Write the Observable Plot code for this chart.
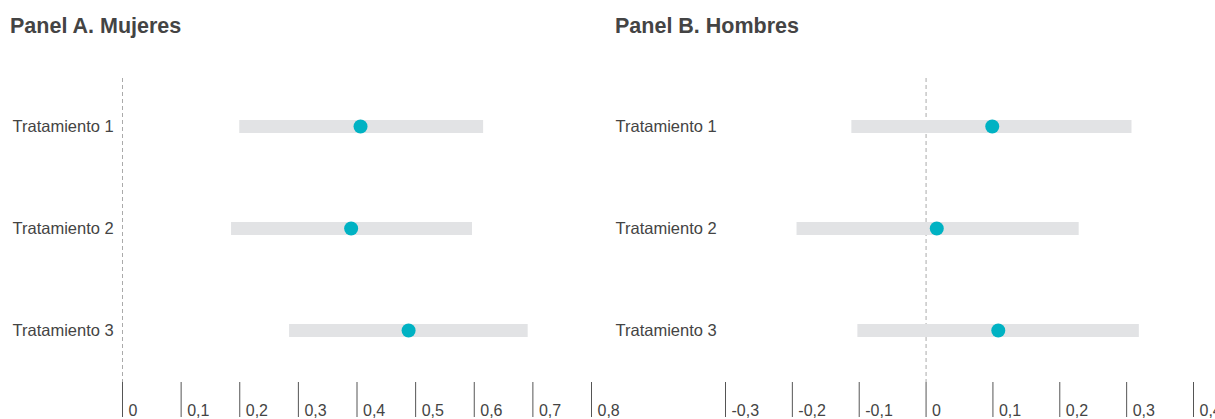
<!DOCTYPE html>
<html>
<head>
<meta charset="utf-8">
<script src="https://cdn.jsdelivr.net/npm/d3@7"></script>
<script src="https://cdn.jsdelivr.net/npm/@observablehq/plot@0.6"></script>
<style>
  html, body { margin: 0; padding: 0; background: #fff; overflow: hidden; }
  body { width: 1215px; height: 419px; position: relative; font-family: "Liberation Sans", Arial, sans-serif; }
  .panel { position: absolute; top: 0; }
  .panel svg { overflow: visible; }
  .title { position: absolute; top: 14px; font-size: 21.5px; font-weight: bold; color: #444; white-space: nowrap; }
</style>
</head>
<body>
<div id="a" class="panel" style="left:0px"></div>
<div id="b" class="panel" style="left:605px"></div>
<div class="title" style="left:10px">Panel A. Mujeres</div>
<div class="title" style="left:615px">Panel B. Hombres</div>
<script>
const categories = ["Tratamiento 1", "Tratamiento 2", "Tratamiento 3"];

// Panel A (Mujeres)
const womenEstimate = [0.406, 0.390, 0.488];
const womenLow = [0.200, 0.186, 0.285];
const womenHigh = [0.616, 0.597, 0.692];
const womenTicks = [0, 0.1, 0.2, 0.3, 0.4, 0.5, 0.6, 0.7, 0.8];

// Panel B (Hombres)
const menEstimate = [0.099, 0.016, 0.108];
const menLow = [-0.111, -0.193, -0.102];
const menHigh = [0.308, 0.229, 0.319];
const menTicks = [-0.3, -0.2, -0.1, 0, 0.1, 0.2, 0.3, 0.4];

const fmt = d => d === 0 ? "0" : d.toFixed(1).replace(".", ",");

function panel(est, lo, hi, ticks, domain, range, width, labelX) {
  const data = categories.map((c, i) => ({cat: c, est: est[i], lo: lo[i], hi: hi[i]}));
  return Plot.plot({
    width, height: 419,
    marginTop: 78, marginBottom: 37, marginLeft: range[0], marginRight: width - range[1],
    style: {fontFamily: "'Liberation Sans', Arial, sans-serif", fontSize: "16px", color: "#444", background: "transparent", overflow: "visible"},
    x: {domain, range},
    y: {type: "point", domain: categories, range: [126, 330], padding: 0},
    marks: [
      Plot.ruleX([0], {stroke: "#aaa", strokeDasharray: "4,3", strokeWidth: 1}),
      Plot.ruleY(data, {x1: "lo", x2: "hi", y: "cat", stroke: "#e2e3e5", strokeWidth: 13}),
      Plot.dot(data, {x: "est", y: "cat", r: 7, fill: "#00b2c3", stroke: "none"}),
      Plot.text(categories, {y: d => d, frameAnchor: "left", dx: -(range[0] - labelX), textAnchor: "start", fill: "#444", fontSize: 16.5}),
      Plot.axisX({ticks, tickFormat: () => "", anchor: "bottom", tickSize: 35, stroke: "#555", strokeOpacity: 1}),
      Plot.axisX({ticks, tickFormat: fmt, anchor: "bottom", tickSize: 0, tickPadding: 22, textAnchor: "start", dx: 6, fill: "#444", fontSize: 16}),
      Plot.axisY({ticks: [], label: null, tickSize: 0})
    ]
  });
}

document.getElementById("a").appendChild(panel(womenEstimate, womenLow, womenHigh, womenTicks, [0, 0.8], [122, 591], 605, 12));
document.getElementById("b").appendChild(panel(menEstimate, menLow, menHigh, menTicks, [-0.3, 0.4], [120, 588], 610, 10));
</script>
</body>
</html>
